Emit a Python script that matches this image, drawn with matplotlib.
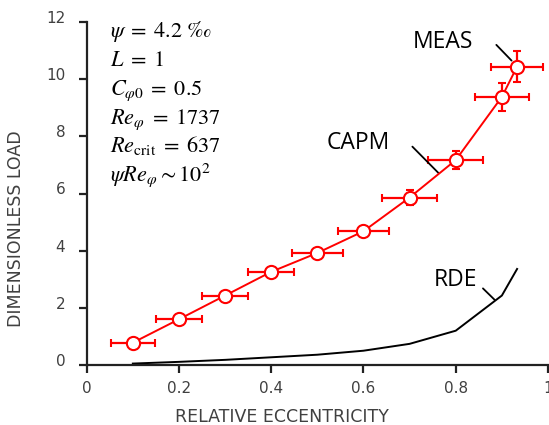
import matplotlib
matplotlib.use("Agg")
import matplotlib.pyplot as plt
import matplotlib.transforms as mtransforms

plt.rcParams['mathtext.fontset'] = 'stix'

# MEAS / CAPM data
ecc = [0.1, 0.2, 0.3, 0.4, 0.5, 0.6, 0.7, 0.8, 0.9, 0.933]
load = [0.78, 1.60, 2.43, 3.26, 3.92, 4.68, 5.86, 7.17, 9.38, 10.44]
ecc_err = [0.047, 0.049, 0.05, 0.05, 0.055, 0.055, 0.06, 0.06, 0.059, 0.057]
load_err = [0.1, 0.1, 0.1, 0.1, 0.12, 0.15, 0.25, 0.32, 0.48, 0.53]

# RDE curve
rde_ecc = [0.1, 0.2, 0.3, 0.4, 0.5, 0.6, 0.7, 0.8, 0.9, 0.933]
rde_load = [0.05, 0.11, 0.18, 0.27, 0.36, 0.50, 0.74, 1.20, 2.43, 3.36]

xticks = [0, 0.2, 0.4, 0.6, 0.8, 1]
xticklabels = ['0', '0.2', '0.4', '0.6', '0.8', '1']
yticks = [0, 2, 4, 6, 8, 10, 12]
yticklabels = ['0', '2', '4', '6', '8', '10', '12']

params = ['$\\psi\\;=\\;4.2\\ \\mathrm{\u2030}$', r'$L\;=\;1$', r'$C_{\varphi 0}\;=\;0.5$',
          r'$Re_{\varphi}\;=\;1737$', r'$Re_{\mathrm{crit}}\;=\;637$',
          r'$\psi Re_{\varphi}{\sim}10^2$']

fig = plt.figure(figsize=(5.49, 4.25), dpi=100)
ax = fig.add_axes([86.7/549, 60/425, (548-86.7)/549, (365-22)/425])

gray = '#404040'
ax.plot(rde_ecc, rde_load, color='black', lw=1.4, zorder=2)
ax.errorbar(ecc, load, xerr=ecc_err, yerr=load_err, color='red', lw=1.4,
            elinewidth=1.6, capsize=3, capthick=1.6, marker='o', markersize=9.5,
            markerfacecolor='white', markeredgecolor='red', markeredgewidth=1.5,
            zorder=3, clip_on=False)

ax.set_xlim(0, 1)
ax.set_ylim(0, 12)
ax.set_xticks(xticks)
ax.set_xticklabels(xticklabels)
ax.set_yticks(yticks)
ax.set_yticklabels(yticklabels)
for s in ['top', 'right']:
    ax.spines[s].set_visible(False)
for s in ['left', 'bottom']:
    ax.spines[s].set_linewidth(1.6)
    ax.spines[s].set_color('#222222')
ax.tick_params(direction='out', length=5.5, width=1.6, color='#222222',
               labelsize=11, labelcolor=gray)
ax.tick_params(axis='y', pad=10)
ax.tick_params(axis='x', pad=6)
off = mtransforms.ScaledTranslation(0, 5/100, fig.dpi_scale_trans)
for lab in ax.get_yticklabels():
    lab.set_transform(lab.get_transform() + off)

ax.set_xlabel('RELATIVE ECCENTRICITY', fontsize=12.5, color=gray)
ax.set_ylabel('DIMENSIONLESS LOAD', fontsize=12.5, color=gray)
ax.xaxis.set_label_coords(0.424, -0.125)
ax.yaxis.set_label_coords(-0.134, 0.397)

# parameter block
for i, p in enumerate(params):
    ax.text(0.05, 0.955 - i * 28.7 / 343, p, transform=ax.transAxes,
            fontsize=16, color='black', ha='left', va='baseline')

# curve labels with leader lines
lab_font = dict(family='Open Sans', fontsize=16.5, color='black', ha='center', va='center')
ax.text(0.772, 11.3, 'MEAS', **lab_font)
ax.text(0.588, 7.77, 'CAPM', **lab_font)
ax.text(0.80, 2.97, 'RDE', **lab_font)
lead = dict(arrowstyle='-', color='black', lw=1.3, shrinkA=0, shrinkB=0)
ax.annotate('', xy=(0.921, 10.65), xytext=(0.888, 11.2), arrowprops=lead,
            annotation_clip=False)
ax.annotate('', xy=(0.763, 6.71), xytext=(0.706, 7.64), arrowprops=lead)
ax.annotate('', xy=(0.885, 2.27), xytext=(0.859, 2.68), arrowprops=lead)

fig.savefig('out.png', dpi=100)
